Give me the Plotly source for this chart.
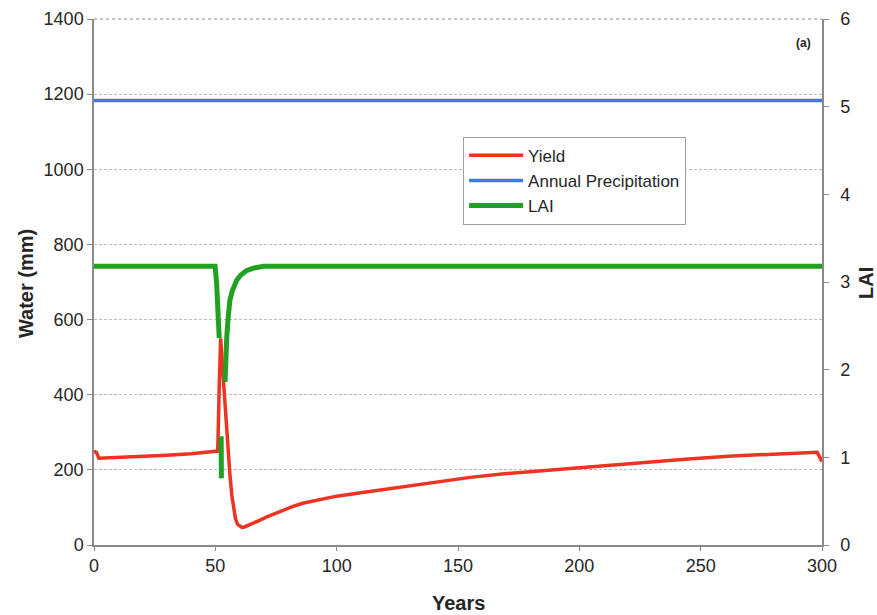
import plotly.graph_objects as go

# Yield (mm) through the simulation years
yield_years = [0, 1, 2, 10, 20, 30, 40, 50, 51, 51.6, 52.2, 53.0, 53.5, 54.5, 55.3, 56.0,
               56.8, 57.5, 58.3, 59.2, 60.2, 61, 62, 64, 66, 68, 71, 75, 78, 82, 86, 92,
               100, 110, 118, 130, 142, 155, 170, 192, 210, 226, 245, 263, 280, 298, 300]
yield_mm = [250, 246, 231, 233, 236, 239, 243, 248, 250, 420, 550, 470, 420, 330, 250, 188,
            132, 95, 70, 55, 49, 47, 48, 53, 59, 65, 74, 85, 93, 103, 111, 120,
            130, 139, 146, 158, 169, 180, 190, 202, 212, 220, 229, 237, 242, 247, 222]

# Annual precipitation (mm)
precip_years = [0, 300]
precip_mm = [1183, 1183]

# Leaf area index (None marks breaks in the plotted series)
lai_years = [0, 49.9, 50.5, 50.8, 51.3, 51.6, None,
             52.4, 52.5, None,
             54.0, 54.3, 54.7, 55.3, 56.0, 57.0, 58.8, 60.5, 62.9, 66, 69.8, 300]
lai = [3.18, 3.18, 3.0, 2.72, 2.5, 2.36, None,
       1.24, 0.76, None,
       1.86, 2.2, 2.37, 2.6, 2.79, 2.9, 3.02, 3.08, 3.13, 3.16, 3.18, 3.18]

FONT = "Liberation Sans, Arial, sans-serif"
AXIS_GREY = "#8a8a8a"
GRID_GREY = "#bdbdbd"
TEXT = "#262626"

fig = go.Figure()
fig.add_trace(go.Scatter(x=yield_years, y=yield_mm, name="Yield", mode="lines",
                         line=dict(color="#ee3322", width=3.5)))
fig.add_trace(go.Scatter(x=precip_years, y=precip_mm, name="Annual Precipitation", mode="lines",
                         line=dict(color="#3d7be6", width=3.5)))
fig.add_trace(go.Scatter(x=lai_years, y=lai, name="LAI", mode="lines", yaxis="y2",
                         connectgaps=False,
                         line=dict(color="#21a121", width=5)))

axis_common = dict(zeroline=False, showline=True, linecolor=AXIS_GREY, linewidth=1.5,
                   ticks="outside", tickcolor=AXIS_GREY, tickfont=dict(size=18),
                   automargin=False)

fig.update_layout(
    width=877, height=615,
    margin=dict(l=94, r=55, t=19, b=70),
    paper_bgcolor="white", plot_bgcolor="white",
    font=dict(family=FONT, color=TEXT, size=18),
    showlegend=True,
    legend=dict(x=0.507, y=0.776, xanchor="left", yanchor="top",
                bgcolor="white", bordercolor="#a0a0a0", borderwidth=1,
                font=dict(size=17, color=TEXT),
                tracegroupgap=0, itemwidth=54),
    xaxis=dict(range=[0, 300], tickvals=[0, 50, 100, 150, 200, 250, 300],
               showgrid=False, ticklen=4, **axis_common),
    yaxis=dict(range=[0, 1400], tickvals=[0, 200, 400, 600, 800, 1000, 1200, 1400],
               showgrid=True, gridcolor=GRID_GREY, gridwidth=1, griddash="3px,2px",
               ticklen=5, **axis_common),
    yaxis2=dict(range=[0, 6], tickvals=[0, 1, 2, 3, 4, 5, 6],
                overlaying="y", side="right", showgrid=False,
                ticklen=5, ticklabelstandoff=8, **axis_common),
)

# Axis titles
fig.add_annotation(x=0.5, y=-0.110, xref="paper", yref="paper", text="<b>Years</b>",
                   showarrow=False, xanchor="center", yanchor="middle",
                   font=dict(size=20, color=TEXT))
fig.add_annotation(x=-0.0934, y=0.496, xref="paper", yref="paper", text="<b>Water (mm)</b>",
                   showarrow=False, textangle=-90, xanchor="center", yanchor="middle",
                   font=dict(size=20, color=TEXT))
fig.add_annotation(x=1.0604, y=0.498, xref="paper", yref="paper", text="<b>LAI</b>",
                   showarrow=False, textangle=-90, xanchor="center", yanchor="middle",
                   font=dict(size=20, color=TEXT))

# Dotted top edge of the plot area
fig.add_shape(type="line", xref="paper", yref="paper", x0=0, x1=1, y0=1, y1=1,
              line=dict(color=AXIS_GREY, width=1.2, dash="dot"))

# Panel label
fig.add_annotation(x=0.975, y=0.955, xref="paper", yref="paper",
                   text="<b>(a)</b>", showarrow=False, xanchor="center", yanchor="middle",
                   font=dict(size=12, color=TEXT))

fig.write_html("out.html")
